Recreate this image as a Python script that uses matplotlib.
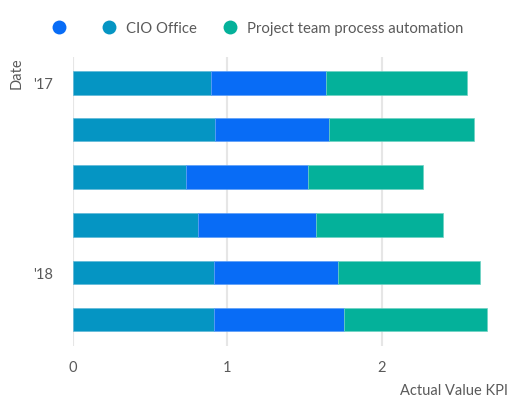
import matplotlib
matplotlib.use("Agg")
import matplotlib.pyplot as plt
import matplotlib.dates as mdates
from matplotlib.lines import Line2D
import numpy as np
import datetime as dt

plt.rcParams['font.family'] = ['Lato', 'DejaVu Sans']

dates = ["2017-01-01", "2017-04-01", "2017-07-01", "2017-10-01", "2018-01-01", "2018-04-01"]
cio_office = [0.896, 0.924, 0.737, 0.812, 0.918, 0.918]
unnamed = [0.747, 0.738, 0.787, 0.766, 0.800, 0.841]
project_team = [0.908, 0.939, 0.745, 0.820, 0.922, 0.922]
series_names = ["", "CIO Office", "Project team process automation"]
x_ticks = [0, 1, 2]

c_blue = "#086cf6"
c_cio = "#0595c3"
c_green = "#04b19a"
txt = "#5a5a5a"

y = mdates.date2num([dt.datetime.strptime(d, "%Y-%m-%d") for d in dates])
cio = np.array(cio_office)
un = np.array(unnamed)
pt = np.array(project_team)

fig = plt.figure(figsize=(5.11, 4.06), dpi=100)
ax = fig.add_axes([72.5/511, 1-347/406, (505.1-72.5)/511, (347-58)/406])

h = 45
ax.barh(y, cio, height=h, color=c_cio, edgecolor="#5fb8d8", linewidth=0.5, zorder=3)
ax.barh(y, un, left=cio, height=h, color=c_blue, edgecolor="#5c9ef8", linewidth=0.5, zorder=3)
ax.barh(y, pt, left=cio+un, height=h, color=c_green, edgecolor="#6dd2c2", linewidth=0.5, zorder=3)

ax.set_xlim(0, 2.8)
ax.set_ylim(mdates.date2num(dt.datetime(2018, 5, 22)), mdates.date2num(dt.datetime(2016, 11, 12)))
ax.set_xticks(x_ticks)
ax.set_xticklabels([str(t) for t in x_ticks])
ax.yaxis.set_major_locator(mdates.YearLocator())
ax.yaxis.set_major_formatter(mdates.DateFormatter("'%y"))
ax.grid(axis='x', color="#e6e6e6", linewidth=1.5, zorder=0)
ax.grid(axis='y', visible=False)
for s in ax.spines.values():
    s.set_visible(False)
ax.tick_params(axis='both', length=0, labelsize=10.5, labelcolor=txt)
ax.tick_params(axis='y', pad=14)
ax.tick_params(axis='x', pad=10)

fig.text(17/511, 1-89/406, "Date", rotation=90, ha='center', va='bottom', fontsize=10.5, color=txt)
fig.text(508/511, 1-391/406, "Actual Value KPI", ha='right', va='center', fontsize=10.5, color=txt)

handles = [Line2D([], [], marker='o', ls='', markersize=10, color=c, markeredgewidth=0)
           for c in (c_blue, c_cio, c_green)]
fig.legend(handles, series_names, loc='center left', bbox_to_anchor=(52/511, 1-29/406),
           ncol=3, frameon=False, fontsize=10.7, labelcolor=txt, handlelength=0.95,
           handletextpad=0.68, columnspacing=1.73, borderpad=0, borderaxespad=0)

fig.savefig("out.png", dpi=100)
